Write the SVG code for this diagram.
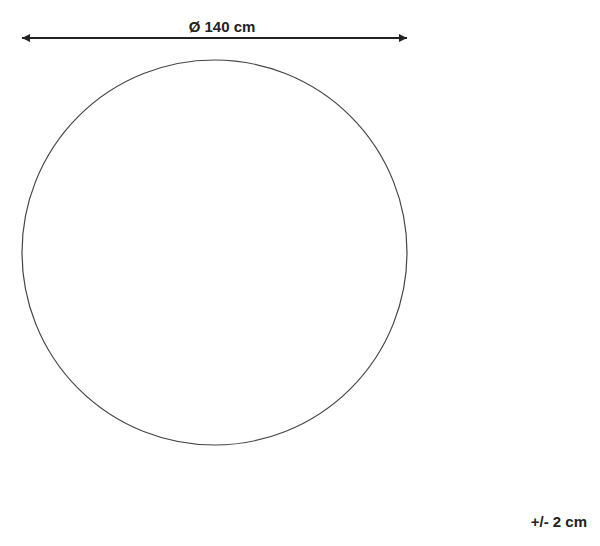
<svg xmlns="http://www.w3.org/2000/svg" width="600" height="546" viewBox="0 0 600 546">
<style>
.lbl{font-family:"Liberation Sans",Arial,sans-serif;font-weight:bold;font-size:15px;fill:#222}
</style>
<defs>
<marker id="ah" viewBox="0 0 10 10" refX="10" refY="5" markerWidth="4" markerHeight="4.4" orient="auto-start-reverse" markerUnits="strokeWidth">
<path d="M0,0 L10,5 L0,10 Z" fill="#222"/>
</marker>
</defs>
<rect width="600" height="546" fill="#fff"/>
<g id="rug">
<circle cx="214.5" cy="252.5" r="192.5" fill="none" stroke="#444" stroke-width="1.2"/>
</g>
<g id="connectors">
<line x1="22" y1="38" x2="407" y2="38" stroke="#222" stroke-width="2" marker-start="url(#ah)" marker-end="url(#ah)"/>
</g>
<g id="labels">
<text class="lbl" x="222" y="32" text-anchor="middle">Ø 140 cm</text>
<text class="lbl" x="587" y="527" text-anchor="end">+/- 2 cm</text>
</g>
</svg>
